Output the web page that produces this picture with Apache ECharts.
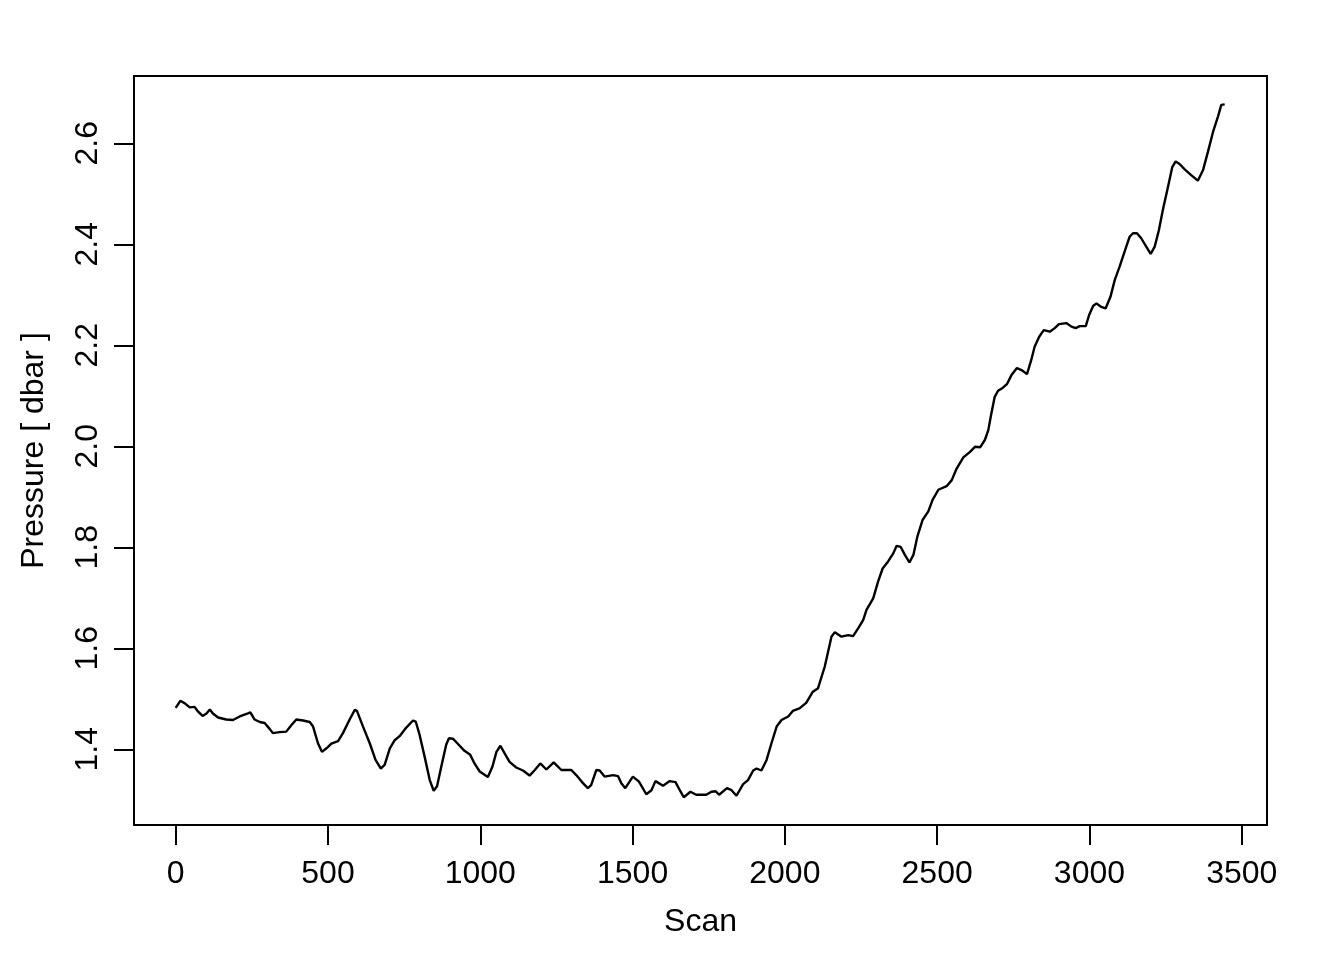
<!DOCTYPE html>
<html>
<head>
<meta charset="utf-8">
<script src="https://cdn.jsdelivr.net/npm/echarts@6/dist/echarts.min.js"></script>
<style>
html,body{margin:0;padding:0;background:#fff;}
#chart{width:1344px;height:960px;}
</style>
</head>
<body>
<div id="chart"></div>
<script>
const scans = [0,15,30,46,62,73,88,101,112,122,139,166,188,210,237,245,259,276,292,309,319,341,363,380,396,418,440,451,467,480,495,511,533,549,571,588,595,615,637,656,673,686,703,719,735,757,779,788,801,817,834,847,858,872,888,897,910,926,948,967,981,998,1025,1040,1053,1066,1080,1096,1118,1140,1162,1179,1197,1217,1241,1266,1299,1315,1337,1353,1364,1381,1392,1408,1436,1452,1463,1476,1501,1521,1545,1562,1575,1600,1622,1641,1655,1668,1690,1709,1742,1759,1773,1784,1810,1825,1841,1863,1879,1896,1907,1923,1940,1956,1973,1989,2011,2026,2048,2070,2092,2109,2131,2153,2164,2186,2208,2224,2241,2257,2268,2290,2306,2321,2339,2356,2367,2380,2394,2409,2422,2435,2452,2471,2485,2504,2531,2548,2564,2586,2608,2624,2641,2657,2668,2677,2689,2700,2716,2729,2744,2762,2777,2795,2809,2820,2835,2850,2870,2886,2900,2924,2941,2955,2968,2988,2999,3012,3023,3039,3053,3069,3083,3099,3119,3132,3143,3156,3170,3187,3201,3214,3228,3241,3258,3272,3283,3296,3312,3334,3356,3373,3389,3406,3422,3433,3444];
const pressures = [1.482,1.496,1.491,1.483,1.484,1.475,1.466,1.471,1.479,1.471,1.463,1.459,1.458,1.465,1.471,1.473,1.459,1.454,1.452,1.440,1.432,1.434,1.435,1.448,1.459,1.457,1.454,1.445,1.412,1.395,1.402,1.411,1.416,1.432,1.459,1.478,1.476,1.445,1.412,1.379,1.362,1.369,1.402,1.418,1.426,1.443,1.457,1.455,1.428,1.386,1.339,1.318,1.327,1.366,1.409,1.422,1.421,1.411,1.397,1.389,1.372,1.356,1.345,1.366,1.395,1.407,1.392,1.375,1.364,1.358,1.348,1.359,1.372,1.360,1.374,1.359,1.359,1.349,1.333,1.323,1.329,1.359,1.358,1.346,1.349,1.347,1.333,1.323,1.346,1.336,1.311,1.319,1.337,1.328,1.337,1.335,1.319,1.305,1.316,1.310,1.310,1.316,1.317,1.310,1.323,1.319,1.308,1.331,1.339,1.358,1.362,1.358,1.379,1.412,1.445,1.458,1.465,1.476,1.481,1.492,1.514,1.521,1.564,1.623,1.632,1.623,1.626,1.624,1.640,1.656,1.676,1.699,1.732,1.758,1.772,1.788,1.803,1.801,1.785,1.770,1.785,1.821,1.854,1.871,1.894,1.914,1.921,1.933,1.956,1.978,1.989,1.999,1.998,2.013,2.032,2.062,2.098,2.110,2.116,2.123,2.141,2.155,2.151,2.143,2.171,2.197,2.217,2.230,2.227,2.234,2.242,2.244,2.237,2.234,2.238,2.238,2.260,2.278,2.283,2.276,2.273,2.296,2.329,2.356,2.392,2.415,2.422,2.422,2.412,2.395,2.381,2.395,2.428,2.468,2.514,2.553,2.564,2.559,2.549,2.537,2.526,2.547,2.583,2.623,2.653,2.676,2.677];
const xTicks = [0,500,1000,1500,2000,2500,3000,3500];
const yTicks = [1.4,1.6,1.8,2.0,2.2,2.4,2.6];

const font = '"Liberation Sans", Arial, Helvetica, sans-serif';
const chart = echarts.init(document.getElementById('chart'), null, {renderer:'canvas'});
chart.setOption({
  animation: false,
  backgroundColor: '#fff',
  grid: {left:134, top:76, right:77, bottom:135, show:true, borderColor:'#000', borderWidth:2, backgroundColor:'transparent'},
  xAxis: {
    type:'value', min:-137, max:3583,
    name:'Scan', nameLocation:'middle', nameGap:81,
    nameTextStyle:{color:'#000', fontSize:32, fontFamily:font},
    axisLine:{show:true, onZero:false, lineStyle:{color:'#000', width:2}},
    splitLine:{show:false},
    axisTick:{show:true, inside:false, length:20, customValues:xTicks, lineStyle:{color:'#000', width:2}},
    axisLabel:{show:true, customValues:xTicks, margin:33, color:'#000', fontSize:32, fontFamily:font,
      formatter: v => String(Math.round(v))}
  },
  yAxis: {
    type:'value', min:1.2501, max:2.7333, position:'left',
    name:'Pressure [ dbar ]', nameLocation:'middle', nameGap:84, nameRotate:90,
    nameTextStyle:{color:'#000', fontSize:32, fontFamily:font},
    axisLine:{show:true, onZero:false, lineStyle:{color:'#000', width:2}},
    splitLine:{show:false},
    axisTick:{show:true, inside:false, length:20, customValues:yTicks, lineStyle:{color:'#000', width:2}},
    axisLabel:{show:true, customValues:yTicks, rotate:90, margin:30, color:'#000', fontSize:32, fontFamily:font,
      formatter: v => Number(v).toFixed(1)}
  },
  series: [{
    type:'line',
    data: scans.map((s,i)=>[s, pressures[i]]),
    showSymbol:false, symbol:'none',
    lineStyle:{color:'#000', width:2.4},
    silent:true
  }]
});
</script>
</body>
</html>
